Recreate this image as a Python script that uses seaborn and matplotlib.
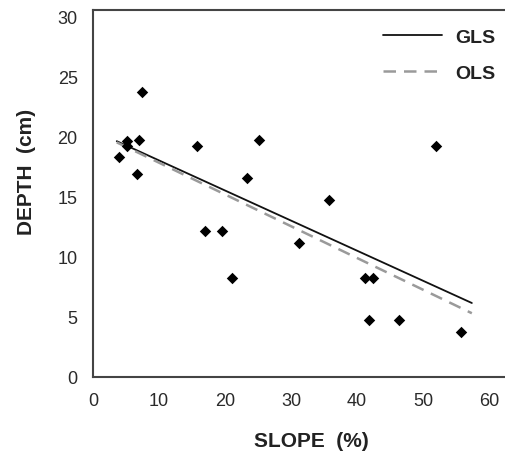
import matplotlib
matplotlib.use("Agg")
import matplotlib.pyplot as plt
import seaborn as sns
import pandas as pd

# Data
slope = [4.0, 5.2, 5.2, 7.5, 6.9, 6.7, 15.8, 25.2, 23.4, 16.9, 19.6, 31.2,
         35.8, 51.9, 21.0, 41.2, 42.4, 41.8, 46.4, 55.8]
depth = [18.3, 19.6, 19.2, 23.7, 19.7, 16.9, 19.2, 19.7, 16.5, 12.1, 12.1, 11.1,
         14.7, 19.2, 8.2, 8.2, 8.2, 4.7, 4.7, 3.7]

gls_x = [3.6, 57.4]
gls_y = [19.6, 6.15]
ols_x = [3.6, 57.4]
ols_y = [19.5, 5.3]

xticks = [0, 10, 20, 30, 40, 50, 60]
yticks = [0, 5, 10, 15, 20, 25, 30]

sns.set_style("white")
plt.rcParams['font.family'] = ['Liberation Sans', 'DejaVu Sans']

W, H = 506, 456
fig = plt.figure(figsize=(W / 100, H / 100), dpi=100)
# axes box runs past the right edge of the figure (clipped as in the reference)
ax = fig.add_axes([93 / W, 1 - 378 / H, 436 / W, 367 / H])

pts = pd.DataFrame({"slope": slope, "depth": depth})
gls = pd.DataFrame({"x": gls_x, "y": gls_y})
ols = pd.DataFrame({"x": ols_x, "y": ols_y})

sns.lineplot(data=gls, x="x", y="y", ax=ax, color="#111111", linewidth=1.3,
             label="GLS")
sns.lineplot(data=ols, x="x", y="y", ax=ax, color="#9a9a9a", linewidth=1.8,
             linestyle=(0, (5, 3.2)), label="OLS")
sns.scatterplot(data=pts, x="slope", y="depth", ax=ax, marker="D", s=34,
                color="black", edgecolor="black", linewidth=0, zorder=3)

ax.set_xlim(0, 436 / 6.6)
ax.set_ylim(0, 30.5)
ax.set_xticks(xticks)
ax.set_yticks(yticks)
ax.tick_params(axis="both", length=0, labelsize=13, colors="#2a2a2a")
ax.tick_params(axis="x", pad=11)
ax.tick_params(axis="y", pad=11)

for s in ["left", "bottom", "top"]:
    ax.spines[s].set_color("#444444")
    ax.spines[s].set_linewidth(1.5)
ax.spines["right"].set_visible(False)

ax.set_xlabel("SLOPE  (%)", fontsize=15, fontweight="bold", color="#222222")
ax.set_ylabel("DEPTH  (cm)", fontsize=15, fontweight="bold", color="#222222")
ax.xaxis.label.set_va("center")
ax.yaxis.label.set_va("center")
ax.xaxis.set_label_coords((311 - 93) / 436, (378 - 442) / 367)
ax.yaxis.set_label_coords((26 - 93) / 436, (378 - 172) / 367)

leg = ax.legend(loc="upper left", frameon=False,
                prop={"weight": "bold", "size": 14},
                handlelength=3.05, handletextpad=0.65, labelspacing=0.95,
                borderpad=0, borderaxespad=0,
                bbox_to_anchor=(383 / W, 1 - 29 / H),
                bbox_transform=fig.transFigure)
for t in leg.get_texts():
    t.set_color("#222222")

fig.savefig("out.png", dpi=100)
